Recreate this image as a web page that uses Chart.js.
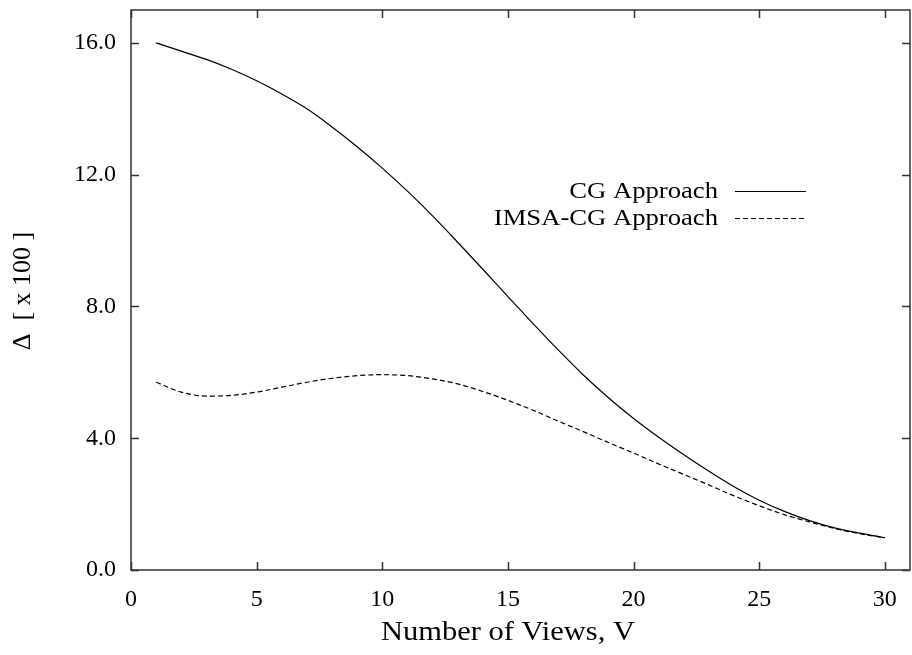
<!DOCTYPE html>
<html><head><meta charset="utf-8">
<script src="https://cdn.jsdelivr.net/npm/chart.js@4"></script>
<style>html,body{margin:0;padding:0;background:#fff}#wrap{width:912px;height:655px}</style>
</head><body><div id="wrap"><canvas id="c" width="912" height="655"></canvas></div>
<script>
const views = [1,2,3,4,5,6,7,8,9,10,11,12,13,14,15,16,17,18,19,20,21,22,23,24,25,26,27,28,29,30];
const cgApproach = [16.0,15.75,15.5,15.2,14.85,14.45,14.0,13.45,12.85,12.2,11.5,10.75,9.95,9.13,8.3,7.48,6.68,5.92,5.23,4.6,4.03,3.5,3.0,2.53,2.12,1.78,1.5,1.28,1.12,0.98];
const imsaApproach = [5.7,5.4,5.28,5.3,5.4,5.55,5.7,5.82,5.9,5.93,5.9,5.8,5.65,5.42,5.15,4.85,4.52,4.2,3.87,3.55,3.22,2.9,2.58,2.25,1.95,1.68,1.46,1.26,1.1,0.98];
const seriesNames = ['CG Approach','IMSA-CG Approach'];
const xTicks = [0,5,10,15,20,25,30];
const xTickLabels = ['0','5','10','15','20','25','30'];
const yTicks = [0,4,8,12,16];
const yTickLabels = ['0.0','4.0','8.0','12.0','16.0'];
const xTitle = 'Number of Views, V';
const yTitle = '\u0394  [ x 100 ]';

const FONT = '"Liberation Serif", "DejaVu Serif", serif';

function stretchText(ctx, text, x, y, sx) {
  ctx.save();
  ctx.translate(x, y);
  ctx.scale(sx, 1);
  ctx.fillText(text, 0, 0);
  ctx.restore();
}

const framePlugin = {
  id: 'frame',
  afterDatasetsDraw(chart) {
    const ctx = chart.ctx, a = chart.chartArea;
    const xs = chart.scales.x, ys = chart.scales.y;
    ctx.save();
    ctx.strokeStyle = '#333';
    ctx.lineWidth = 1.5;
    ctx.strokeRect(a.left, a.top, a.right - a.left, a.bottom - a.top);
    ctx.beginPath();
    const tl = 8;
    xTicks.forEach(v => {
      const px = Math.round(xs.getPixelForValue(v)) + 0.5;
      ctx.moveTo(px, a.bottom); ctx.lineTo(px, a.bottom - tl);
      ctx.moveTo(px, a.top); ctx.lineTo(px, a.top + tl);
    });
    yTicks.forEach(v => {
      const py = Math.round(ys.getPixelForValue(v)) + 0.5;
      ctx.moveTo(a.left, py); ctx.lineTo(a.left + tl, py);
      ctx.moveTo(a.right, py); ctx.lineTo(a.right - tl, py);
    });
    ctx.stroke();

    // legend
    ctx.font = '24px ' + FONT;
    ctx.fillStyle = '#000';
    ctx.textAlign = 'right';
    ctx.textBaseline = 'middle';
    const legY = [191, 218];
    chart.data.datasets.forEach((ds, i) => {
      stretchText(ctx, ds.label, 718, legY[i] + 1, 1.11);
      ctx.save();
      ctx.strokeStyle = ds.borderColor;
      ctx.lineWidth = ds.borderWidth;
      ctx.setLineDash(ds.borderDash || []);
      ctx.beginPath();
      ctx.moveTo(735, legY[i] + 0.5); ctx.lineTo(806, legY[i] + 0.5);
      ctx.stroke();
      ctx.restore();
    });

    // axis titles
    ctx.textAlign = 'center';
    ctx.font = '27px ' + FONT;
    stretchText(ctx, xTitle, 508, 633, 1.13);
    ctx.font = '26px ' + FONT;
    ctx.save();
    ctx.translate(23, 291);
    ctx.rotate(-Math.PI / 2);
    ctx.fillText(yTitle, 0, 0);
    ctx.restore();
    ctx.restore();
  }
};

new Chart(document.getElementById('c'), {
  type: 'line',
  data: {
    datasets: [
      { label: seriesNames[0], data: views.map((v, i) => ({x: v, y: cgApproach[i]})),
        borderColor: '#000', borderWidth: 1.2, pointRadius: 0, cubicInterpolationMode: 'monotone', fill: false },
      { label: seriesNames[1], data: views.map((v, i) => ({x: v, y: imsaApproach[i]})),
        borderColor: '#000', borderWidth: 1.2, borderDash: [5, 3], pointRadius: 0, cubicInterpolationMode: 'monotone', fill: false }
    ]
  },
  options: {
    responsive: false,
    animation: false,
    devicePixelRatio: 1,
    layout: { padding: { top: 10, right: 2, left: 0, bottom: 0 } },
    plugins: { legend: { display: false }, tooltip: { enabled: false } },
    scales: {
      x: {
        type: 'linear', min: 0, max: 31,
        grid: { display: false, drawTicks: false },
        border: { display: false },
        afterFit: s => { s.height = 85; s.paddingLeft = 0; s.paddingRight = 0; },
        afterBuildTicks: s => { s.ticks = xTicks.map(v => ({ value: v })); },
        ticks: { color: '#000', padding: 15, maxRotation: 0, autoSkip: false,
          font: { family: FONT, size: 24 },
          callback: v => xTickLabels[xTicks.indexOf(v)] }
      },
      y: {
        type: 'linear', min: 0, max: 17,
        grid: { display: false, drawTicks: false },
        border: { display: false },
        afterFit: s => { s.width = 131; s.paddingTop = 0; s.paddingBottom = 0; },
        afterBuildTicks: s => { s.ticks = yTicks.map(v => ({ value: v })); },
        ticks: { color: '#000', padding: 15, autoSkip: false,
          font: { family: FONT, size: 24 },
          callback: v => yTickLabels[yTicks.indexOf(v)] }
      }
    }
  },
  plugins: [framePlugin]
});
</script></body></html>
